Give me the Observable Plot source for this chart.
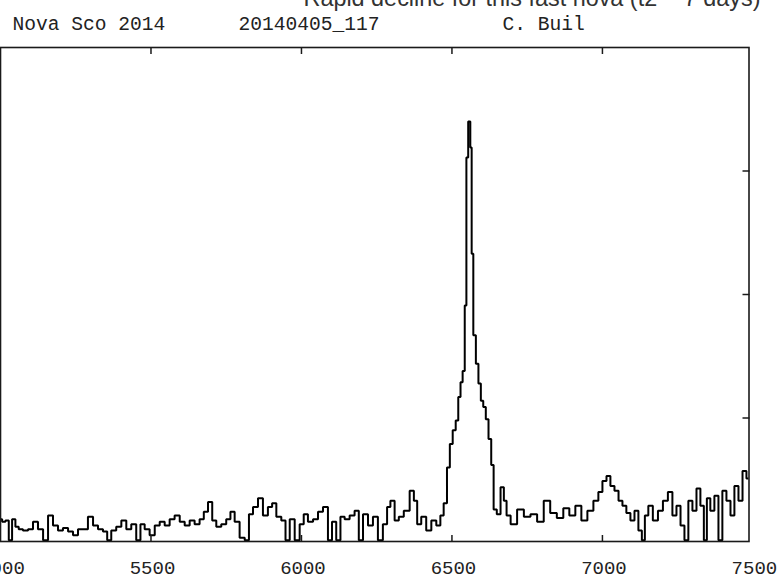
<!DOCTYPE html>
<html>
<head>
<meta charset="utf-8">
<script src="https://cdn.jsdelivr.net/npm/d3@7"></script>
<script src="https://cdn.jsdelivr.net/npm/@observablehq/plot@0.6"></script>
<style>
  html, body { margin: 0; padding: 0; background: #fff; overflow: hidden; }
  #chart svg { display: block; }
</style>
</head>
<body>
<div id="chart"></div>
<script>
// Header texts
const titleText = "Rapid decline for this fast nova (t2 ~ 7 days)";
const headerLabels = ["Nova Sco 2014", "20140405_117", "C. Buil"];

// Tick values
const xTickLabels = [5000, 5500, 6000, 6500, 7000, 7500];
const xTickMarks = [5500, 6000, 6500, 7000];
const yTickMarks = [1, 2, 3];

// Spectrum: wavelength (Angstrom) and relative flux
const wavelength = [
  5000,5011,5022,5033,5044,5055,5066,5083,5100,5116,
  5133,5150,5166,5183,5199,5216,5233,5249,5266,5282,
  5299,5316,5332,5349,5360,5376,5393,5410,5426,5443,
  5459,5471,5487,5504,5521,5537,5554,5570,5587,5604,
  5620,5637,5653,5670,5681,5698,5709,5725,5742,5758,
  5770,5786,5803,5820,5831,5847,5864,5880,5897,5908,
  5925,5941,5953,5969,5986,6002,6013,6030,6047,6063,
  6080,6096,6107,6124,6135,6152,6168,6185,6196,6213,
  6229,6246,6262,6279,6290,6301,6318,6329,
  6351,6368,6379,6390,6406,6423,6440,6456,6467,6478,
  6489,6497,6508,6517,6525,6532,6539,6546,6550,6558,
  6564,6567,6575,6584,6592,6600,6608,6617,6626,6635,
  6642,6656,6667,6678,6685,6705,6728,6750,6772,6794,
  6816,
  6837,6860,6880,6900,6920,6940,6960,6980,6993,7007,
  7020,7033,7047,7060,7073,7086,7100,7113,7126,7136,
  7146,7159,7176,7193,7209,7226,7239,7253,7266,7279,
  7292,7306,7319,7332,7342,7352,7365,7379,7392,7405,
  7419,7432,7445,7459,7472,7485
];
const flux = [
  0.18,0.16,0.17,0.01,0.18,0.12,0.10,0.09,0.10,0.16,
  0.10,0.01,0.21,0.13,0.09,0.11,0.08,0.05,0.10,0.10,
  0.20,0.13,0.10,0.08,0.01,0.09,0.12,0.17,0.10,0.14,
  0.01,0.14,0.10,0.05,0.13,0.16,0.13,0.18,0.21,0.16,
  0.13,0.17,0.14,0.18,0.24,0.32,0.17,0.12,0.14,0.18,
  0.24,0.16,0.03,0.01,0.22,0.28,0.35,0.21,0.28,0.31,
  0.20,0.17,0.01,0.18,0.01,0.14,0.22,0.16,0.18,0.24,
  0.28,0.01,0.16,0.01,0.20,0.18,0.21,0.25,0.01,0.22,
  0.13,0.20,0.01,0.14,0.28,0.33,0.17,0.20,
  0.25,0.41,0.33,0.14,0.20,0.09,0.17,0.13,0.21,0.31,
  0.60,0.79,0.90,0.98,1.17,1.29,1.38,1.91,3.11,3.40,
  3.19,2.33,1.67,1.44,1.28,1.14,1.09,0.99,0.83,0.62,
  0.26,0.22,0.44,0.33,0.21,0.14,0.26,0.20,0.22,0.16,
  0.33,
  0.23,0.19,0.27,0.21,0.29,0.17,0.25,0.33,0.40,0.49,
  0.53,0.45,0.41,0.33,0.29,0.23,0.17,0.25,0.09,0.01,
  0.21,0.29,0.17,0.25,0.33,0.40,0.21,0.29,0.13,0.01,
  0.33,0.25,0.43,0.29,0.01,0.35,0.25,0.37,0.01,0.41,
  0.33,0.21,0.45,0.33,0.57,0.51
];

const spectrum = wavelength.map((w, i) => ({w, f: flux[i]}));

const ink = "#1a1a1a";
const mono = "'Liberation Mono', 'DejaVu Sans Mono', monospace";

const chart = Plot.plot({
  width: 777,
  height: 578,
  marginLeft: 0,
  marginRight: 28.5,
  marginTop: 47,
  marginBottom: 37,
  style: {background: "#fff", overflow: "visible"},
  x: {domain: [5000, 7487]},
  y: {domain: [0, 4]},
  marks: [
    Plot.line(spectrum, {x: "w", y: "f", curve: "step", stroke: "#000", strokeWidth: 2, strokeLinejoin: "miter", clip: true}),
    Plot.axisX(xTickMarks, {anchor: "bottom", tickSize: -6, tickFormat: () => "", label: null, stroke: ink, strokeWidth: 1.5}),
    Plot.axisX(xTickMarks, {anchor: "top", tickSize: -6, tickFormat: () => "", label: null, stroke: ink, strokeWidth: 1.5}),
    Plot.axisY(yTickMarks, {anchor: "right", tickSize: -7, tickFormat: () => "", label: null, stroke: ink, strokeWidth: 1.5}),
    Plot.frame({stroke: ink, strokeWidth: 1.6}),
    Plot.text(xTickLabels, {x: d => d, frameAnchor: "bottom", dy: 32, dx: 1.5, lineAnchor: "bottom",
      text: d => String(d), fontFamily: mono, fontSize: 19, fill: "#222"}),
    Plot.text([headerLabels[0]], {frameAnchor: "top-left", dx: 12, dy: -18, lineAnchor: "bottom", textAnchor: "start",
      fontFamily: mono, fontSize: 19.6, fill: "#222"}),
    Plot.text([headerLabels[1]], {frameAnchor: "top-left", dx: 238, dy: -18, lineAnchor: "bottom", textAnchor: "start",
      fontFamily: mono, fontSize: 19.6, fill: "#222"}),
    Plot.text([headerLabels[2]], {frameAnchor: "top-left", dx: 502, dy: -18, lineAnchor: "bottom", textAnchor: "start",
      fontFamily: mono, fontSize: 19.6, fill: "#222"}),
    Plot.text([titleText], {frameAnchor: "top-left", dx: 303, dy: -42, lineAnchor: "bottom", textAnchor: "start",
      fontFamily: "'Liberation Sans', Arial, sans-serif", fontSize: 23.4, fill: "#333"})
  ]
});

document.getElementById("chart").appendChild(chart);
</script>
</body>
</html>
